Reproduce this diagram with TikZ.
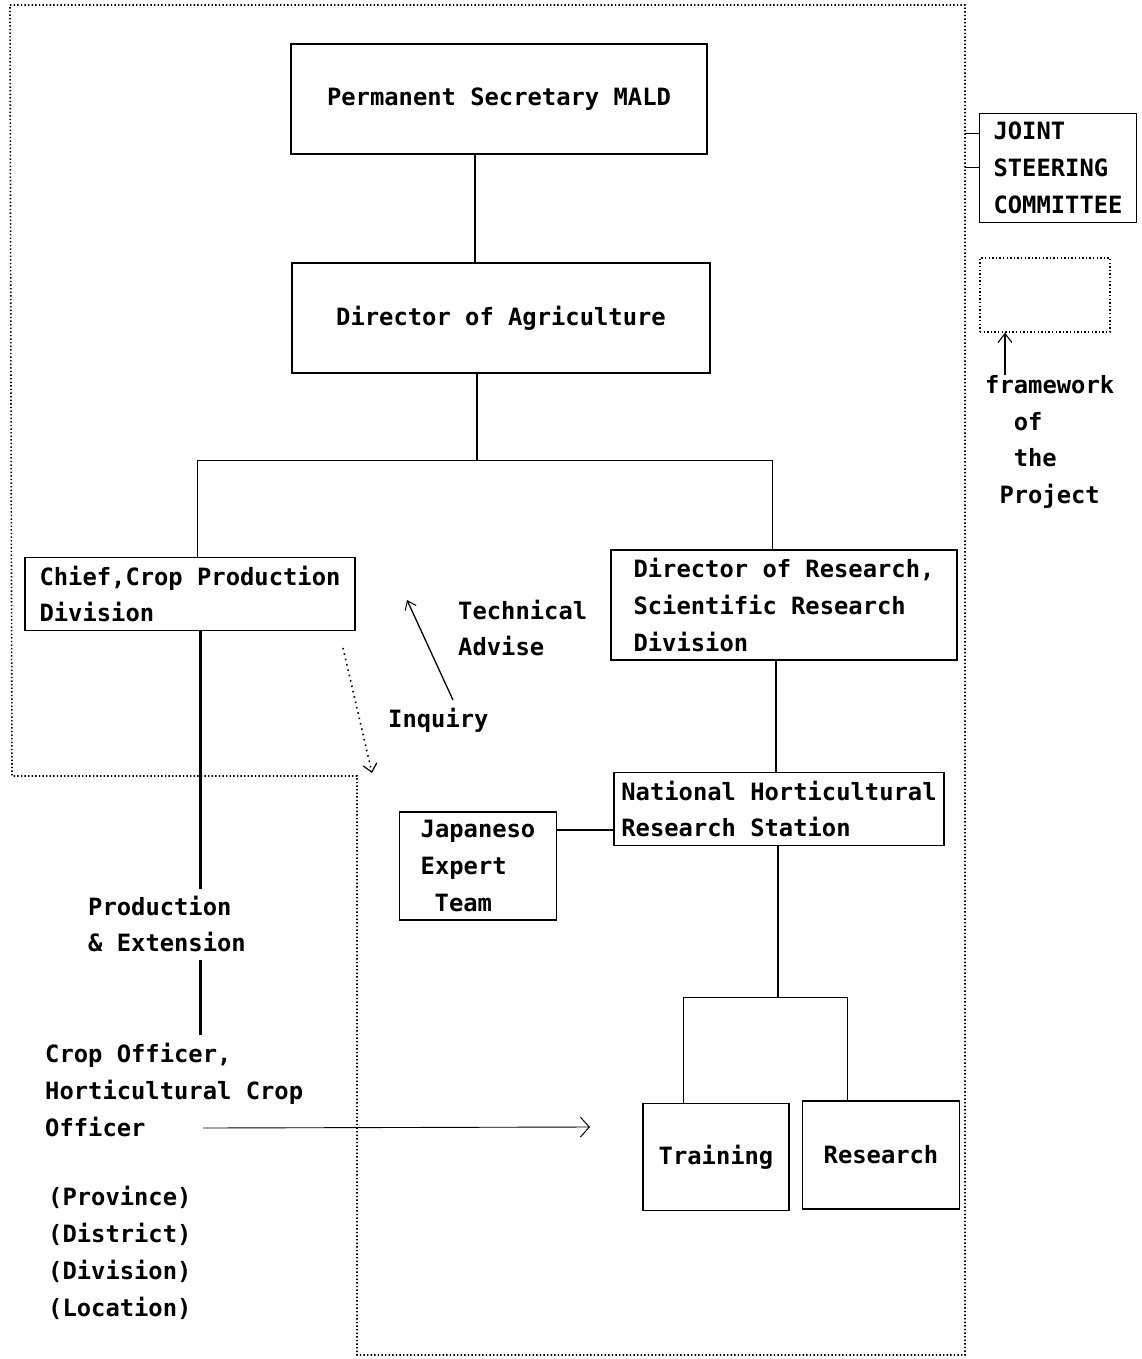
\documentclass[tikz,border=0pt]{standalone}
\usepackage{fontspec}
\newfontfamily\mono{DejaVu Sans Mono}
\usetikzlibrary{arrows.meta}
\newcommand\txtfont{\mono\bfseries\fontsize{23.8}{36.8}\selectfont}
\begin{document}
\begin{tikzpicture}[x=1pt,y=-1pt,
  box/.style={draw, line width=1.4pt, inner sep=0pt, font=\txtfont, align=left},
  lbl/.style={inner sep=0pt, font=\txtfont, align=left},
  conn/.style={line width=1.6pt},
  thinconn/.style={line width=0.9pt},
  boldconn/.style={line width=3pt},
  frame/.style={line width=1.6pt, dash pattern=on 1.4pt off 2.2pt},
  openarrow/.style={line width=1.1pt, -{Straight Barb[length=9pt,width=14pt,line width=1.1pt]}}
]
\useasboundingbox (0,0) rectangle (1141,1359);

% framework of the project (dotted outline)
\draw[frame] (10,5) -- (965,5) -- (965,1355) -- (357,1355) -- (357,776) -- (12,776) -- cycle;

% boxes
\node[box, minimum width=416pt, minimum height=110pt] (ps) at (499,99) {Permanent Secretary MALD};
\node[box, minimum width=418pt, minimum height=110pt] (da) at (501,318) {Director of Agriculture};
\node[box, minimum width=330pt, minimum height=73pt] (chief) at (190,594) {Chief,Crop Production\\Division};
\node[box, minimum width=346pt, minimum height=110pt] (dr) at (784,605) {Director of Research,\\Scientific Research\\Division};
\node[box, minimum width=330pt, minimum height=73pt] (nhrs) at (779,809) {National Horticultural\\Research Station};
\node[box, minimum width=157pt, minimum height=108pt] (jet) at (478,866) {Japaneso\\Expert\\\hspace*{14pt}Team};
\node[box, minimum width=146pt, minimum height=107pt] (train) at (716,1157) {Training};
\node[box, minimum width=157pt, minimum height=108pt] (res) at (881,1155) {Research};
\node[box, minimum width=157pt, minimum height=109pt] (jsc) at (1058,168) {JOINT\\STEERING\\COMMITTEE};
\node[draw, line width=1.4pt, dash pattern=on 1.4pt off 2.2pt, minimum width=130pt, minimum height=74pt, inner sep=0pt] (fw) at (1045,295) {};

% free texts
\node[lbl, anchor=north west] (fwtext) at (985,375) {framework\\\hspace*{28.6pt}of\\\hspace*{28.6pt}the\\\hspace*{14.3pt}Project};
\node[lbl, anchor=west] (prod) at (88,924) {Production\\\&~Extension};
\node[lbl, anchor=west] (crop) at (45,1090) {Crop Officer,\\Horticultural Crop\\Officer};
\node[lbl, anchor=west] (loc) at (48,1253) {(Province)\\(District)\\(Division)\\(Location)};
\node[lbl, anchor=west] (tech) at (458,628) {Technical\\Advise};
\node[lbl, anchor=west] (inq) at (388,720) {Inquiry};

% coordinates
\coordinate (b1) at (477,460);
\coordinate (cL) at (197,460);
\coordinate (cR) at (772,460);
\coordinate (px) at (200,0);
\coordinate (pe1) at (200,889);
\coordinate (pe2) at (200,960);
\coordinate (pe3) at (200,1035);
\coordinate (b2) at (778,997);
\coordinate (tL) at (683,997);
\coordinate (tR) at (847,997);
\coordinate (as) at (203,1128);
\coordinate (ae) at (590,1127);
\coordinate (ta1) at (453,700);
\coordinate (ta2) at (407,600);
\coordinate (iq1) at (343,648);
\coordinate (iq2) at (372,773);
\coordinate (fa) at (1005,375);

% connectors
\draw[conn] ([xshift=-24pt]ps.south) -- ([xshift=-24pt]ps.south |- da.north);
\draw[conn] (b1 |- da.south) -- (b1);
\draw[thinconn] (cL |- chief.north) -- (cL) -- (cR) -- (cR |- dr.north);
\draw[conn] (dr.south -| 776,0) -- (nhrs.north -| 776,0);
\draw[conn] (jet.east |- 0,830) -- (nhrs.west |- 0,830);
\draw[conn] (b2 |- nhrs.south) -- (b2);
\draw[thinconn] (tL |- train.north) -- (tL) -- (tR) -- (tR |- res.north);
\draw[boldconn] (px |- chief.south) -- (pe1);
\draw[boldconn] (pe2) -- (pe3);
\draw[thinconn, -{Straight Barb[length=9pt,width=20pt,line width=1pt]}] (as) -- (ae);
\draw[line width=1.3pt, -{Straight Barb[length=8pt,width=12pt,line width=1pt]}] (ta1) -- (ta2);
\draw[line width=1.6pt, dash pattern=on 1.5pt off 4pt, -{Straight Barb[length=8pt,width=14pt,line width=1.2pt]}] (iq1) -- (iq2);
\draw[openarrow] (fa) -- (fa |- fw.south);
\draw[thinconn] (jsc.west |- 0,133) -- (965,133);
\draw[thinconn] (jsc.west |- 0,167) -- (965,167);
\end{tikzpicture}
\end{document}
